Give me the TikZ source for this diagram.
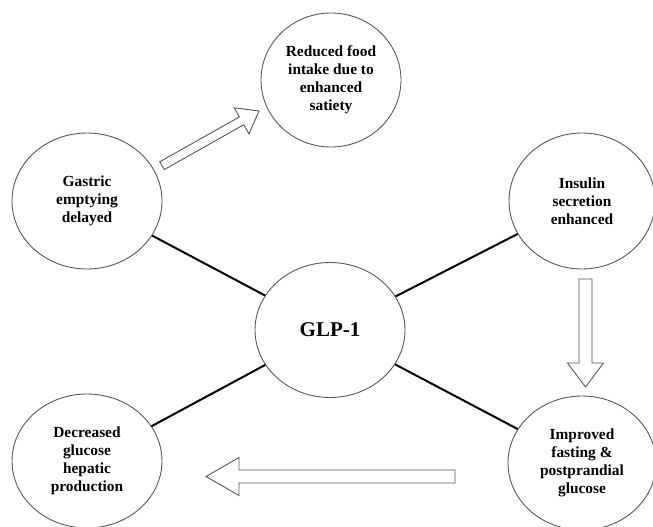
\documentclass[tikz,border=0pt]{standalone}
\usepackage{fontspec}
\setmainfont{Liberation Serif}
\usetikzlibrary{shapes.geometric,calc}
% block arrow: tail, tip, shaft half width, head half width, head length
\newcommand\blockarrow[5]{%
  \coordinate (hb) at ($#2!#5!#1$);
  \draw[arrowbox] ($#1!#3!90:#2$) -- ($(hb)!#3!90:#2$) -- ($(hb)!#4!90:#2$) -- #2
    -- ($(hb)!#4!-90:#2$) -- ($(hb)!#3!-90:#2$) -- ($#1!#3!-90:#2$) -- cycle;}
\begin{document}
\begin{tikzpicture}[x=1pt,y=-1pt,
  circ/.style={ellipse, draw=black!65, line width=0.9pt, fill=white, align=center,
    font=\fontsize{15.4}{18}\selectfont\bfseries, inner sep=0pt},
  link/.style={draw=black, line width=2pt},
  arrowbox/.style={draw=black!65, line width=0.9pt, fill=white, line join=miter}]
\clip (0,0) rectangle (653,527);
\fill[white] (0,0) rectangle (653,527);

\node[circ, minimum width=140pt, minimum height=134pt] (red) at (331,80)
  {Reduced food\\intake due to\\enhanced\\satiety};
\node[circ, minimum width=150pt, minimum height=136pt] (gas) at (87,201)
  {Gastric\\emptying\\delayed};
\node[circ, minimum width=150pt, minimum height=135pt,
  font=\fontsize{21}{24}\selectfont\bfseries] (glp) at (330,330) {GLP-1};
\node[circ, minimum width=146pt, minimum height=136pt] (ins) at (582,201)
  {Insulin\\secretion\\enhanced};
\node[circ, minimum width=148pt, minimum height=134pt] (imp) at (582,463)
  {Improved\\fasting \&\\postprandial\\glucose};
\node[circ, minimum width=150pt, minimum height=134pt] (dec) at (87,461)
  {Decreased\\glucose\\hepatic\\production};

\draw[link] (gas) -- (glp);
\draw[link] (ins) -- (glp);
\draw[link] (imp) -- (glp);
\draw[link] (dec) -- (glp);

\coordinate (a1t) at (162,165.7);
\coordinate (a1p) at (259,111);
\coordinate (a2t) at (585.5,279);
\coordinate (a2p) at (585.5,387);
\coordinate (a3t) at (455,476.5);
\coordinate (a3p) at (206,476.5);
\blockarrow{(a1t)}{(a1p)}{4.5pt}{15pt}{20pt}
\blockarrow{(a2t)}{(a2p)}{6.5pt}{18pt}{24pt}
\blockarrow{(a3t)}{(a3p)}{6.5pt}{19pt}{33pt}
\end{tikzpicture}
\end{document}
